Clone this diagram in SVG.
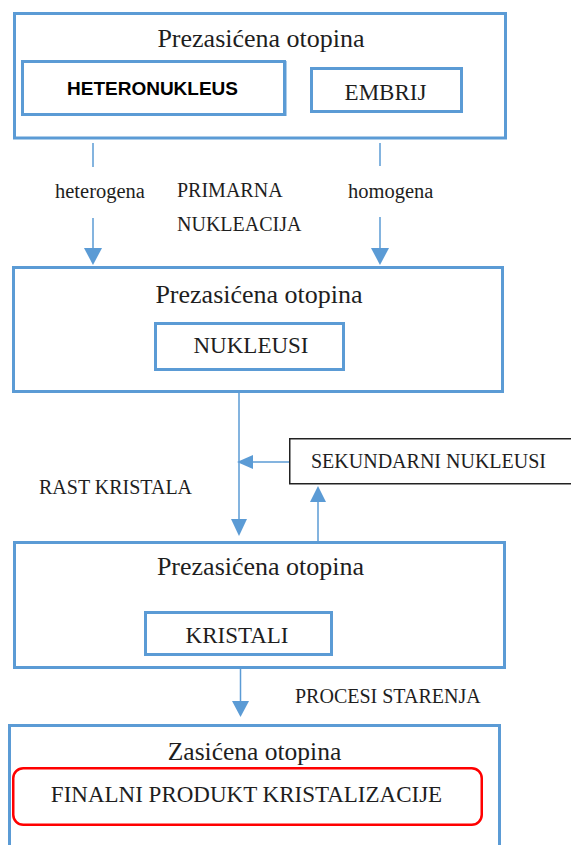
<svg xmlns="http://www.w3.org/2000/svg" width="571" height="845" viewBox="0 0 571 845">
<defs>
<style>
.box{fill:#fff;stroke:#5b9bd5;stroke-width:3}
.inner{fill:#fff;stroke:#5b9bd5;stroke-width:3}
.blk{fill:#fff;stroke:#222;stroke-width:1.5}
.red{fill:none;stroke:#ff0000;stroke-width:2.5}
.ln{fill:none;stroke:#5b9bd5;stroke-width:1.5}
.ah{fill:#5b9bd5;stroke:none}
.serif{font-family:'Liberation Serif','DejaVu Serif',serif;fill:#1e1e1e}
.t26{font-size:26px;text-anchor:middle}
.t23{font-size:23px;text-anchor:middle}
.t20{font-size:20px}
.bold{font-family:'Liberation Sans',Arial,sans-serif;font-weight:bold;font-size:19px;text-anchor:middle;fill:#000}
</style>
</defs>
<rect width="571" height="845" fill="#fff"/>
<g id="connectors">
<line class="ln" x1="93" y1="143" x2="93" y2="167"/>
<line class="ln" x1="93" y1="218" x2="93" y2="249"/>
<polygon class="ah" points="84,248 102,248 93,265"/>
<line class="ln" x1="380" y1="143" x2="380" y2="166"/>
<line class="ln" x1="380" y1="217" x2="380" y2="249"/>
<polygon class="ah" points="371,248 389,248 380,265"/>
<line class="ln" x1="239" y1="393" x2="239" y2="520"/>
<polygon class="ah" points="231,519 247,519 239,536"/>
<line class="ln" x1="289" y1="462" x2="252" y2="462"/>
<polygon class="ah" points="253,455 253,469 237,462"/>
<line class="ln" x1="318" y1="541" x2="318" y2="501"/>
<polygon class="ah" points="310,502 326,502 318,486"/>
<line class="ln" x1="240.5" y1="669" x2="240.5" y2="702"/>
<polygon class="ah" points="232,701 249,701 240.5,717"/>
</g>
<g id="labels">
<text class="serif t20" x="55" y="198" font-family="Liberation Serif, DejaVu Serif, serif" style="font-size:20.5px">heterogena</text>
<text class="serif t20" x="177" y="197" font-family="Liberation Serif, DejaVu Serif, serif">PRIMARNA</text>
<text class="serif t20" x="177" y="231" font-family="Liberation Serif, DejaVu Serif, serif">NUKLEACIJA</text>
<text class="serif t20" x="348" y="198" font-family="Liberation Serif, DejaVu Serif, serif" style="font-size:20.5px">homogena</text>
<text class="serif t20" x="39" y="494" font-family="Liberation Serif, DejaVu Serif, serif">RAST KRISTALA</text>
<text class="serif t20" x="295" y="703" font-family="Liberation Serif, DejaVu Serif, serif">PROCESI STARENJA</text>
</g>
<g id="node-top">
<rect class="box" x="14.5" y="13.5" width="491" height="124.5"/>
<text class="serif t26" x="261" y="47" font-family="Liberation Serif, DejaVu Serif, serif">Prezasićena otopina</text>
</g>
<g id="node-heteronukleus">
<rect class="inner" x="22.5" y="61.5" width="262" height="53"/>
<line x1="285.5" y1="61" x2="285.5" y2="116" stroke="#5b9bd5" stroke-width="2"/>
<text class="bold" x="152.5" y="95">HETERONUKLEUS</text>
</g>
<g id="node-embrij">
<rect class="inner" x="311.5" y="68.5" width="150" height="43"/>
<text class="serif t23" x="385.5" y="100" font-family="Liberation Serif, DejaVu Serif, serif">EMBRIJ</text>
</g>
<g id="node-mid">
<rect class="box" x="13.5" y="267.5" width="489" height="124"/>
<text class="serif t26" x="259" y="303" font-family="Liberation Serif, DejaVu Serif, serif">Prezasićena otopina</text>
</g>
<g id="node-nukleusi">
<rect class="inner" x="155.5" y="323.5" width="188" height="46"/>
<text class="serif t23" x="251" y="353" font-family="Liberation Serif, DejaVu Serif, serif">NUKLEUSI</text>
</g>
<g id="node-sekundarni">
<rect class="blk" x="289.75" y="438.75" width="290" height="45"/>
<text class="serif t20" x="311" y="468" font-family="Liberation Serif, DejaVu Serif, serif">SEKUNDARNI NUKLEUSI</text>
</g>
<g id="node-third">
<rect class="box" x="14.5" y="542.5" width="490" height="125"/>
<text class="serif t26" x="260.5" y="575" font-family="Liberation Serif, DejaVu Serif, serif">Prezasićena otopina</text>
</g>
<g id="node-kristali">
<rect class="inner" x="145.5" y="612.5" width="186" height="42"/>
<text class="serif t23" x="237" y="643" font-family="Liberation Serif, DejaVu Serif, serif">KRISTALI</text>
</g>
<g id="node-zasicena">
<path class="box" d="M9.5,850 V725.5 H499.5 V850"/>
<text class="serif t26" x="254.5" y="760" font-family="Liberation Serif, DejaVu Serif, serif" style="font-size:25.5px">Zasićena otopina</text>
</g>
<g id="node-final">
<rect class="red" x="13.25" y="768.25" width="468.5" height="56.5" rx="10"/>
<text class="serif t23" x="246.5" y="802" font-family="Liberation Serif, DejaVu Serif, serif">FINALNI PRODUKT KRISTALIZACIJE</text>
</g>
</svg>
